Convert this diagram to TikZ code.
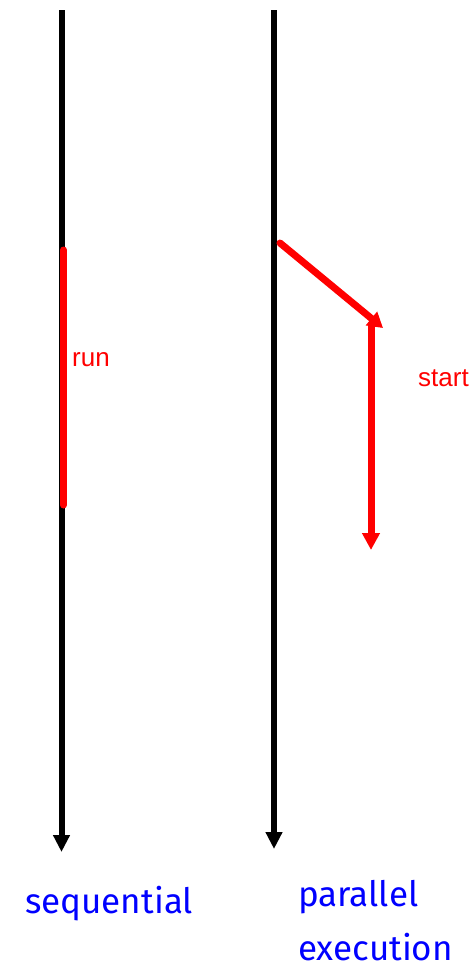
\documentclass[tikz,border=0pt]{standalone}
\usepackage{fontspec}
\setmainfont{Liberation Sans}
\newfontfamily\labelfont{Fira Sans}
\usetikzlibrary{arrows.meta}

\begin{document}
\begin{tikzpicture}[x=1pt, y=-1pt,
  timeline/.style={line width=6pt, -{Triangle[length=17pt, width=16pt]}},
  thread/.style={line width=7pt, red, line cap=round},
  note/.style={red, font=\fontsize{26}{30}\selectfont, inner sep=0pt},
  caption/.style={blue, font=\labelfont\fontsize{35}{54}\selectfont, inner sep=0pt, align=left}]
\useasboundingbox (0,0) rectangle (476,970);
% time axes
\coordinate (seqtop) at (61.5,10);
\coordinate (seqend) at (61.5,852);
\coordinate (partop) at (274,10);
\coordinate (parend) at (274,849);
\draw[timeline] (seqtop) -- (seqend);
\draw[timeline] (partop) -- (parend);
% sequential call
\coordinate (runA) at (63.5,250);
\coordinate (runB) at (63.5,505);
\draw[thread] (runA) -- (runB);
\node[note, anchor=west] (run) at (72,360) {run};
% parallel start
\coordinate (fork) at (280,243);
\coordinate (forkend) at (383,328);
\coordinate (childtop) at (371,322);
\coordinate (childend) at (371,550);
\draw[thread, -{Triangle[length=15pt, width=17pt]}] (fork) -- (forkend);
\draw[thread, line cap=butt, -{Triangle[length=17pt, width=17pt]}] (childtop) -- (childend);
\node[note, anchor=west] (start) at (418,378) {start};
% captions
\node[caption, anchor=west] (seq) at (25,904) {sequential};
\node[caption, anchor=north west] (par) at (298,880) {parallel\\execution};
\end{tikzpicture}
\end{document}
